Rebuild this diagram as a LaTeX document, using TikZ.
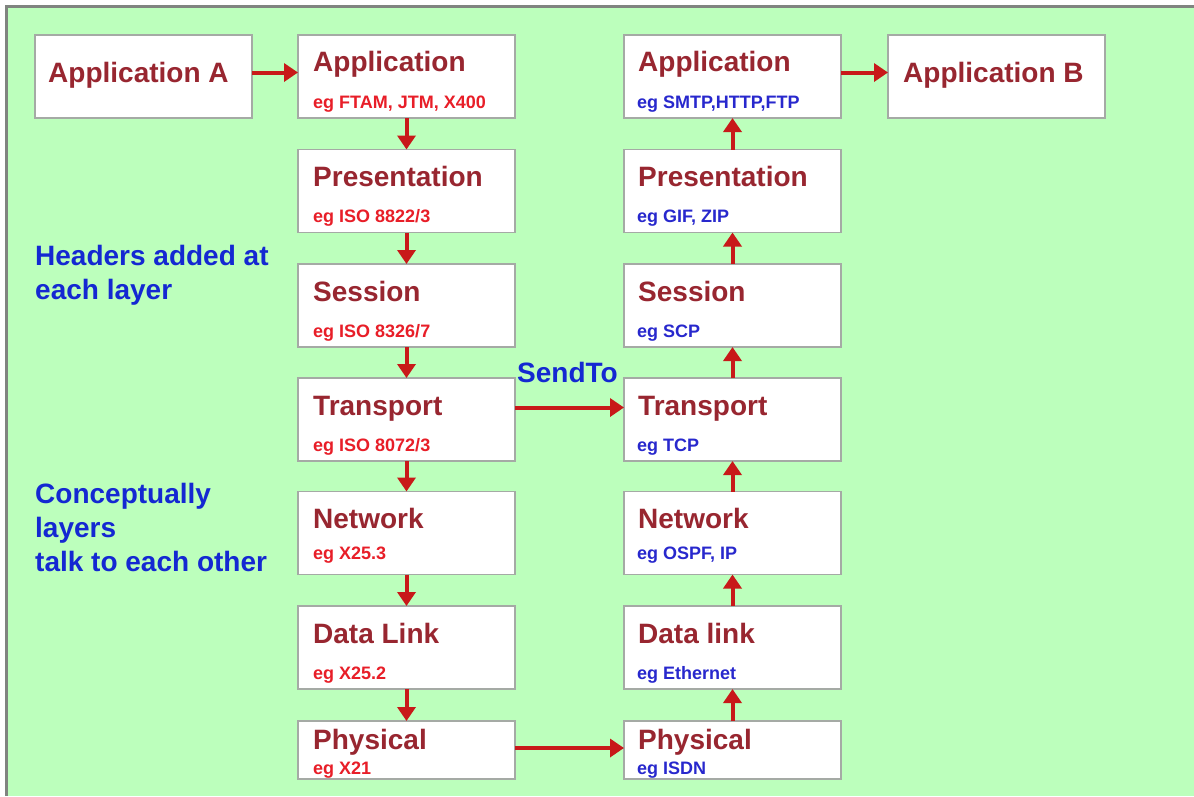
\documentclass[tikz,border=0pt]{standalone}
\usepackage{fontspec}
\setmainfont{Liberation Sans}
\usetikzlibrary{arrows.meta,positioning}

\definecolor{bggreen}{RGB}{188,255,188}
\definecolor{framegray}{RGB}{128,132,128}
\definecolor{boxgray}{RGB}{165,170,165}
\definecolor{titlered}{RGB}{152,38,48}
\definecolor{egred}{RGB}{232,30,40}
\definecolor{egblue}{RGB}{40,40,205}
\definecolor{noteblue}{RGB}{20,40,210}
\definecolor{arrowred}{RGB}{200,25,25}

\tikzset{
  layer/.style={draw=boxgray, line width=1.5pt, fill=white, minimum width=217pt,
    minimum height=83pt, inner sep=0pt, outer sep=0pt},
  ttl/.style={anchor=base west, inner sep=0pt, text=titlered,
    font=\bfseries\fontsize{28}{33}\selectfont},
  egleft/.style={anchor=base west, inner sep=0pt, text=egred,
    font=\bfseries\fontsize{18}{21}\selectfont},
  egright/.style={egleft, text=egblue},
  note/.style={anchor=north west, inner sep=0pt, align=left, text=noteblue,
    font=\bfseries\fontsize{28}{34}\selectfont},
  arr/.style={draw=arrowred, line width=4pt, -{Triangle[length=14pt,width=18pt]}}
}

\begin{document}
\begin{tikzpicture}[x=1pt,y=-1pt]
  \pgfmathsetmacro{\xl}{406.5}
  \pgfmathsetmacro{\xr}{732.5}

  \useasboundingbox (0,0) rectangle (1194,796);
  \fill[white] (0,0) rectangle (1194,796);
  \fill[framegray] (5,5) rectangle (1194,796);
  \fill[bggreen] (8,8) rectangle (1194,796);

  % sending side
  \node[layer] (appA) at (143.5,76.5) {};
  \node[ttl] (appAt) at ([xshift=13pt,yshift=-47pt]appA.north west) {Application A};

  \node[layer] (LA) at (\xl,76.5) {};
  \node[layer] (LP) at (\xl,191) {};
  \node[layer] (LS) at (\xl,305.5) {};
  \node[layer] (LT) at (\xl,419.5) {};
  \node[layer] (LN) at (\xl,533) {};
  \node[layer] (LD) at (\xl,647.5) {};
  \node[layer,minimum height=58pt] (LPh) at (\xl,750) {};

  \node[ttl] (LAt) at ([xshift=15pt,yshift=-36pt]LA.north west) {Application};
  \node[egleft] (LAe) at ([xshift=15pt,yshift=-73pt]LA.north west) {eg FTAM, JTM, X400};
  \node[ttl] (LPt) at ([xshift=15pt,yshift=-37pt]LP.north west) {Presentation};
  \node[egleft] (LPe) at ([xshift=15pt,yshift=-73pt]LP.north west) {eg ISO 8822/3};
  \node[ttl] (LSt) at ([xshift=15pt,yshift=-37pt]LS.north west) {Session};
  \node[egleft] (LSe) at ([xshift=15pt,yshift=-73pt]LS.north west) {eg ISO 8326/7};
  \node[ttl] (LTt) at ([xshift=15pt,yshift=-37pt]LT.north west) {Transport};
  \node[egleft] (LTe) at ([xshift=15pt,yshift=-73pt]LT.north west) {eg ISO 8072/3};
  \node[ttl] (LNt) at ([xshift=15pt,yshift=-37pt]LN.north west) {Network};
  \node[egleft] (LNe) at ([xshift=15pt,yshift=-68pt]LN.north west) {eg X25.3};
  \node[ttl] (LDt) at ([xshift=15pt,yshift=-37pt]LD.north west) {Data Link};
  \node[egleft] (LDe) at ([xshift=15pt,yshift=-73pt]LD.north west) {eg X25.2};
  \node[ttl] (LPht) at ([xshift=15pt,yshift=-28pt]LPh.north west) {Physical};
  \node[egleft] (LPhe) at ([xshift=15pt,yshift=-53pt]LPh.north west) {eg X21};

  % receiving side
  \node[layer] (RA) at (\xr,76.5) {};
  \node[layer] (RP) at (\xr,191) {};
  \node[layer] (RS) at (\xr,305.5) {};
  \node[layer] (RT) at (\xr,419.5) {};
  \node[layer] (RN) at (\xr,533) {};
  \node[layer] (RD) at (\xr,647.5) {};
  \node[layer,minimum height=58pt] (RPh) at (\xr,750) {};

  \node[ttl] (RAt) at ([xshift=14pt,yshift=-36pt]RA.north west) {Application};
  \node[egright] (RAe) at ([xshift=13pt,yshift=-73pt]RA.north west) {eg SMTP,HTTP,FTP};
  \node[ttl] (RPt) at ([xshift=14pt,yshift=-37pt]RP.north west) {Presentation};
  \node[egright] (RPe) at ([xshift=13pt,yshift=-73pt]RP.north west) {eg GIF, ZIP};
  \node[ttl] (RSt) at ([xshift=14pt,yshift=-37pt]RS.north west) {Session};
  \node[egright] (RSe) at ([xshift=13pt,yshift=-73pt]RS.north west) {eg SCP};
  \node[ttl] (RTt) at ([xshift=14pt,yshift=-37pt]RT.north west) {Transport};
  \node[egright] (RTe) at ([xshift=13pt,yshift=-73pt]RT.north west) {eg TCP};
  \node[ttl] (RNt) at ([xshift=14pt,yshift=-37pt]RN.north west) {Network};
  \node[egright] (RNe) at ([xshift=13pt,yshift=-68pt]RN.north west) {eg OSPF, IP};
  \node[ttl] (RDt) at ([xshift=14pt,yshift=-37pt]RD.north west) {Data link};
  \node[egright] (RDe) at ([xshift=13pt,yshift=-73pt]RD.north west) {eg Ethernet};
  \node[ttl] (RPht) at ([xshift=14pt,yshift=-28pt]RPh.north west) {Physical};
  \node[egright] (RPhe) at ([xshift=13pt,yshift=-53pt]RPh.north west) {eg ISDN};

  \node[layer] (appB) at (996.5,76.5) {};
  \node[ttl] (appBt) at ([xshift=15pt,yshift=-47pt]appB.north west) {Application B};

  % side notes
  \node[note] (hdr) at (35,245) {Headers added at\\each layer};
  \node[note] (talk) at (35,483) {Conceptually\\layers\\talk to each other};
  \node[ttl,text=noteblue] (send) at ([xshift=2pt,yshift=-4pt]LT.north east) {SendTo};

  % arrows
  \draw[arr] ([yshift=4pt]appA.east) -- ([yshift=4pt]LA.west);
  \draw[arr] (LA) -- (LP);
  \draw[arr] (LP) -- (LS);
  \draw[arr] (LS) -- (LT);
  \draw[arr] (LT) -- (LN);
  \draw[arr] (LN) -- (LD);
  \draw[arr] (LD) -- (LPh);

  \draw[arr] ([yshift=12pt]LT.east) -- ([yshift=12pt]RT.west);
  \draw[arr] ([yshift=2pt]LPh.east) -- ([yshift=2pt]RPh.west);

  \draw[arr] (RPh) -- (RD);
  \draw[arr] (RD) -- (RN);
  \draw[arr] (RN) -- (RT);
  \draw[arr] (RT) -- (RS);
  \draw[arr] (RS) -- (RP);
  \draw[arr] (RP) -- (RA);
  \draw[arr] ([yshift=4pt]RA.east) -- ([yshift=4pt]appB.west);
\end{tikzpicture}
\end{document}
